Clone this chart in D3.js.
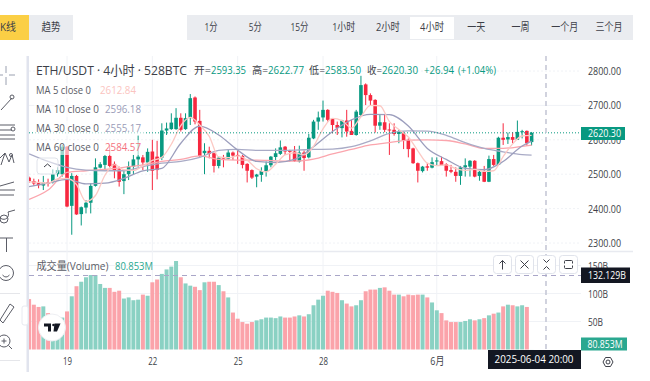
<!DOCTYPE html>
<html>
<head>
<meta charset="utf-8">
<script src="https://cdn.jsdelivr.net/npm/d3@7"></script>
<style>
  html, body { margin: 0; padding: 0; background: #fff; overflow: hidden; }
  text { font-family: "Open Sans", "Noto Sans CJK SC", sans-serif; }
</style>
</head>
<body>
<div id="chart-area"></div>
<script>
// ETH/USDT 4h candles, one entry per candle
var opens = [2490,2480,2474,2467,2477,2477,2500,2500,2580,2408,2495,2384,2403,2417,2466,2519,2527,2553,2530,2514,2480,2500,2522,2543,2549,2534,2566,2551,2548,2627,2631,2631,2664,2631,2663,2723,2655,2561,2568,2561,2524,2550,2545,2563,2556,2553,2530,2512,2493,2498,2509,2526,2550,2559,2580,2568,2566,2537,2563,2549,2604,2653,2665,2687,2661,2643,2634,2656,2626,2614,2672,2761,2730,2716,2641,2651,2630,2629,2617,2619,2600,2575,2532,2509,2523,2519,2537,2538,2529,2512,2507,2495,2520,2522,2539,2495,2507,2478,2544,2527,2606,2601,2608,2600,2623,2626,2593.35];
var highs = [2493,2487,2485,2495,2487,2514,2520,2585,2582,2503,2498,2406,2425,2474,2546,2535,2556,2585,2537,2522,2512,2537,2556,2614,2556,2575,2600,2597,2648,2650,2677,2692,2677,2677,2733,2726,2687,2590,2580,2563,2551,2556,2573,2566,2569,2556,2532,2514,2501,2520,2537,2553,2575,2598,2582,2571,2582,2583,2569,2617,2658,2682,2714,2689,2663,2653,2658,2687,2658,2687,2786,2764,2735,2718,2672,2672,2648,2648,2629,2624,2604,2577,2534,2524,2532,2549,2549,2551,2532,2527,2520,2524,2546,2541,2541,2512,2524,2554,2556,2609,2648,2621,2622,2656,2629,2627,2622.77];
var lows = [2475,2466,2459,2454,2464,2473,2493,2493,2404,2324,2382,2351,2386,2386,2464,2517,2512,2520,2488,2464,2442,2483,2498,2522,2512,2507,2454,2485,2541,2614,2629,2629,2624,2629,2643,2645,2549,2500,2546,2505,2517,2520,2543,2541,2530,2517,2476,2486,2462,2478,2493,2520,2541,2556,2556,2537,2536,2534,2510,2546,2602,2629,2653,2653,2619,2614,2607,2609,2614,2612,2669,2701,2701,2621,2629,2622,2556,2612,2590,2573,2549,2530,2476,2505,2510,2517,2525,2524,2493,2503,2478,2469,2493,2493,2491,2481,2477,2477,2524,2526,2585,2588,2590,2600,2604,2583,2583.5];
var closes = [2480,2473,2468,2476,2472,2500,2512,2580,2406,2495,2383,2404,2417,2466,2520,2529,2553,2524,2512,2478,2500,2523,2543,2551,2534,2565,2510,2512,2627,2633,2650,2664,2629,2663,2721,2653,2553,2568,2559,2524,2548,2545,2563,2554,2553,2527,2510,2490,2499,2509,2526,2551,2561,2578,2566,2565,2538,2563,2547,2606,2653,2665,2687,2658,2643,2635,2656,2624,2614,2682,2759,2730,2714,2641,2651,2629,2628,2617,2624,2598,2573,2532,2510,2522,2519,2535,2540,2526,2510,2507,2495,2520,2526,2539,2493,2507,2478,2544,2527,2606,2600,2608,2600,2623,2625,2590,2620.3];
// Volume in billions, the last candle has only just opened
var volumes = [90,80,76,77,65,60,57,57,68,95,113,121,129,133,133,117,110,110,103,105,91,93,88,89,98,96,120,125,135,143,148,158,129,118,114,112,106,120,121,121,115,104,93,66,55,49,46,49,52,54,57,57,56,59,57,57,59,61,59,63,79,89,96,105,103,101,88,82,77,79,88,104,107,107,110,111,105,98,98,95,98,97,98,98,93,84,70,65,52,49,49,49,51,54,52,54,56,61,64,66,77,80,79,77,79,76,0.08];

// Moving averages, read every 2nd candle (MA5) and every 4th candle (others)
var ma5 = [2478,2476,2474,2486,2488,2470,2421,2438,2497,2528,2513,2511,2524,2540,2549,2587,2641,2665,2643,2610,2550,2548,2553,2541,2516,2507,2529,2556,2562,2556,2581,2632,2662,2656,2634,2667,2700,2699,2653,2630,2608,2568,2532,2525,2527,2516,2511,2514,2508,2510,2551,2588,2611,2612.84];
var ma10 = [2464,2474,2485,2472,2474,2488,2510,2517,2590,2640,2614,2570,2537,2534,2543,2580,2624,2658,2674,2673,2640,2575,2543,2517,2513,2537,2582,2596.18];
var ma30 = [2559,2537,2520,2512,2510,2510,2522,2532,2537,2549,2569,2572,2569,2569,2570,2572,2573,2580,2597,2619,2626,2625,2613,2592,2575,2565,2557,2555.17];
var ma60 = [2427,2454,2505,2510,2514,2520,2527,2537,2543,2553,2543,2541,2541,2539,2538,2544,2559,2572,2585,2592,2599,2600,2598,2588,2575,2575,2581,2584.57];
var ma5Idx = d3.range(0, 107, 2);
var maIdx = d3.range(0, 105, 4).concat([106]);

var priceTicks = [2300, 2400, 2500, 2600, 2700, 2800];
var volumeTicks = [50, 100, 150];
var dateTicks = [8, 26, 44, 62, 86];
var dateLabels = ["19", "22", "25", "28", "6月"];
var periods = ["1分", "5分", "15分", "1小时", "2小时", "4小时", "一天", "一周", "一个月", "三个月"];
var periodWidths = [13, 13, 18, 23, 24, 24, 18, 18, 27, 27];
var legendRows = [
    { name: "MA 5 close 0", value: "2612.84", color: "#fbc4c0" },
    { name: "MA 10 close 0", value: "2596.18", color: "#9a9cb8" },
    { name: "MA 30 close 0", value: "2555.17", color: "#9a9cb8" },
    { name: "MA 60 close 0", value: "2584.57", color: "#f4727e" }
];

var UP = "#089981", DOWN = "#f7283f", TEXT = "#3d3f48", GRID = "#f0f2f6";
var PANE_L = 29, PANE_R = 581, PRICE_T = 56, PRICE_B = 251, VOL_B = 350;

// the screenshot is squeezed sideways, so text gets forced to the width it has there
function fit(sel, w) {
    return sel.attr("textLength", w).attr("lengthAdjust", "spacingAndGlyphs");
}

var svg = d3.select("#chart-area").append("svg")
    .attr("width", 650)
    .attr("height", 381)
    .style("display", "block");

// Scales
var x = d3.scaleLinear().domain([0, 106]).range([29.1, 531.6]);
var y = d3.scaleLinear().domain([2300, 2800]).range([243, 71]);
var yVol = d3.scaleLinear().domain([0, 150]).range([349.5, 265.5]);

svg.append("defs").append("clipPath").attr("id", "pane")
    .append("rect").attr("x", PANE_L).attr("y", PRICE_T)
    .attr("width", PANE_R - PANE_L).attr("height", VOL_B - PRICE_T);

// Top tabs
var tabs = svg.append("g");
tabs.append("rect").attr("x", 0).attr("y", 15).attr("width", 29).attr("height", 25).attr("fill", "#fbcf45");
tabs.append("rect").attr("x", 29).attr("y", 15).attr("width", 44).attr("height", 25).attr("fill", "#eaecf0");
fit(tabs.append("text").attr("x", 8).attr("y", 31).attr("text-anchor", "middle").attr("fill", TEXT)
    .style("font-size", "11.5px").text("K线"), 16);
fit(tabs.append("text").attr("x", 51).attr("y", 31).attr("text-anchor", "middle").attr("fill", TEXT)
    .style("font-size", "11.5px").text("趋势"), 19);
tabs.append("rect").attr("x", 187).attr("y", 15).attr("width", 446).attr("height", 25).attr("fill", "#eaecf0");
tabs.append("rect").attr("x", 410).attr("y", 17).attr("width", 44).attr("height", 22).attr("fill", "#fff");

var xPeriod = d3.scalePoint().domain(periods).range([211, 609]);
tabs.selectAll(".period").data(periods).enter().append("text")
    .attr("class", "period")
    .attr("x", d => xPeriod(d))
    .attr("y", 31)
    .attr("text-anchor", "middle")
    .attr("fill", TEXT)
    .attr("textLength", (d, i) => periodWidths[i])
    .attr("lengthAdjust", "spacingAndGlyphs")
    .style("font-size", "11.5px")
    .text(d => d);

// Frame and separators
svg.append("rect").attr("x", 26.5).attr("y", 56).attr("width", 2.5).attr("height", 316).attr("fill", "#e1e4ee");
svg.append("line").attr("x1", PANE_L).attr("x2", 633).attr("y1", 251.5).attr("y2", 251.5)
    .attr("stroke", "#e8eaf0").attr("stroke-width", 1.5);

// Grid
var grid = svg.append("g").attr("clip-path", "url(#pane)");
grid.selectAll(".v").data(dateTicks).enter().append("line")
    .attr("x1", d => x(d) ).attr("x2", d => x(d))
    .attr("y1", PRICE_T).attr("y2", VOL_B)
    .attr("stroke", GRID);
grid.selectAll(".h").data(priceTicks).enter().append("line")
    .attr("x1", PANE_L).attr("x2", PANE_R)
    .attr("y1", d => y(d)).attr("y2", d => y(d))
    .attr("stroke", GRID)
    .attr("stroke-dasharray", d => d == 2700 ? null : "2,2");
grid.selectAll(".hv").data(volumeTicks).enter().append("line")
    .attr("x1", PANE_L).attr("x2", PANE_R)
    .attr("y1", d => yVol(d)).attr("y2", d => yVol(d))
    .attr("stroke", GRID);

var plot = svg.append("g").attr("clip-path", "url(#pane)");

// Volume bars
plot.selectAll(".vol").data(volumes).enter().append("rect")
    .attr("class", "vol")
    .attr("x", (d, i) => x(i) - 2)
    .attr("y", d => yVol(d))
    .attr("width", 4)
    .attr("height", d => yVol(0) - yVol(d))
    .attr("fill", (d, i) => closes[i] >= opens[i] ? "#8ad1c3" : "#fba3aa");

// Candles
var candleData = d3.range(opens.length);
plot.selectAll(".wick").data(candleData).enter().append("line")
    .attr("class", "wick")
    .attr("x1", i => x(i)).attr("x2", i => x(i))
    .attr("y1", i => y(highs[i])).attr("y2", i => y(lows[i]))
    .attr("stroke", i => closes[i] >= opens[i] ? UP : DOWN);
plot.selectAll(".body").data(candleData).enter().append("rect")
    .attr("class", "body")
    .attr("x", i => x(i) - 1.8)
    .attr("y", i => y(Math.max(opens[i], closes[i])))
    .attr("width", 3.6)
    .attr("height", i => Math.max(1, Math.abs(y(opens[i]) - y(closes[i]))))
    .attr("fill", i => closes[i] >= opens[i] ? UP : DOWN);

// Moving average lines
var maLine = d3.line().x(d => x(d[0])).y(d => y(d[1])).curve(d3.curveMonotoneX);
[[ma60, maIdx, "#fba5ad"], [ma30, maIdx, "#a9abc6"], [ma10, maIdx, "#9c9ebd"], [ma5, ma5Idx, "#fcc9c4"]].forEach(s => {
    plot.append("path")
        .datum(s[0].map((v, i) => [s[1][i], v]))
        .attr("fill", "none")
        .attr("stroke", s[2])
        .attr("stroke-width", 1.3)
        .attr("d", maLine);
});

// Last price line and crosshair
svg.append("line").attr("x1", PANE_L).attr("x2", PANE_R)
    .attr("y1", y(closes[106])).attr("y2", y(closes[106]))
    .attr("stroke", UP).attr("stroke-dasharray", "1,2");
svg.append("line").attr("x1", 546).attr("x2", 546).attr("y1", PRICE_T).attr("y2", VOL_B)
    .attr("stroke", "#c6c8d6").attr("stroke-width", 1.6).attr("stroke-dasharray", "5,4");
svg.append("line").attr("x1", PANE_L).attr("x2", PANE_R).attr("y1", 275.5).attr("y2", 275.5)
    .attr("stroke", "#a9a6c8").attr("stroke-dasharray", "5,4");

// Header and legend
fit(svg.append("text").attr("x", 36).attr("y", 75).attr("fill", TEXT)
    .style("font-size", "13px")
    .text("ETH/USDT · 4小时 · 528BTC"), 151);

// OHLC readout, each piece at its own x
var ohlcParts = [["开=", 194, 17, TEXT], ["2593.35", 211, 35, UP], ["高=", 252, 16, TEXT], ["2622.77", 268, 36, UP],
    ["低=", 309, 16, TEXT], ["2583.50", 325, 36, UP], ["收=", 367, 15, TEXT], ["2620.30", 382, 36, UP],
    ["+26.94", 424, 30, UP], ["(+1.04%)", 458, 38, UP]];
svg.selectAll(".ohlc").data(ohlcParts).enter().append("text")
    .attr("class", "ohlc")
    .attr("x", d => d[1])
    .attr("y", 74)
    .attr("fill", d => d[3])
    .attr("textLength", d => d[2])
    .attr("lengthAdjust", "spacingAndGlyphs")
    .style("font-size", "10.5px")
    .text(d => d[0]);

var legend = svg.selectAll(".legend").data(legendRows).enter().append("g")
    .attr("class", "legend")
    .attr("transform", (d, i) => `translate(34,${90 + i * 19})`);
legend.append("rect").attr("x", 0).attr("y", -7).attr("width", 110).attr("height", 15)
    .attr("fill", "#fff").attr("fill-opacity", 0.6);
legend.append("text").attr("x", 2).attr("y", 4).attr("fill", "#5a5c66")
    .attr("textLength", d => d.name.length > 12 ? 63 : 55)
    .attr("lengthAdjust", "spacingAndGlyphs")
    .style("font-size", "11px").text(d => d.name);
legend.append("text").attr("x", d => d.name.length > 12 ? 71 : 66).attr("y", 4).attr("fill", d => d.color)
    .attr("textLength", 36)
    .attr("lengthAdjust", "spacingAndGlyphs")
    .style("font-size", "11px").text(d => d.value);

fit(svg.append("text").attr("x", 36.5).attr("y", 270).attr("fill", "#5a5c66")
    .style("font-size", "11px").text("成交量(Volume)"), 72);
fit(svg.append("text").attr("x", 115).attr("y", 270).attr("fill", "#2aa890")
    .style("font-size", "11px").text("80.853M"), 38);

// Price and volume axes
var yAxis = svg.append("g").attr("transform", "translate(582,0)")
    .call(d3.axisRight(y).tickValues(priceTicks).tickSize(0).tickPadding(6).tickFormat(d => d.toFixed(2)));
var volAxis = svg.append("g").attr("transform", "translate(582,0)")
    .call(d3.axisRight(yVol).tickValues(volumeTicks).tickSize(0).tickPadding(6).tickFormat(d => d + "B"));
var xAxis = svg.append("g").attr("transform", "translate(0,350)")
    .call(d3.axisBottom(x).tickValues(dateTicks).tickSize(0).tickPadding(7).tickFormat((d, i) => dateLabels[i]));
[yAxis, volAxis, xAxis].forEach(a => {
    a.select(".domain").remove();
    a.selectAll("text").attr("fill", TEXT).style("font-size", "11px")
        .style("font-family", '"Open Sans", "Noto Sans CJK SC", sans-serif');
});
fit(yAxis.selectAll("text"), 33);
volAxis.selectAll("text").attr("textLength", d => d == 50 ? 15 : 20).attr("lengthAdjust", "spacingAndGlyphs");
xAxis.selectAll("text").attr("textLength", d => d == 86 ? 14 : 9).attr("lengthAdjust", "spacingAndGlyphs");

// Axis tags
function tag(tx, ty, w, h, fill, label, anchorX, labelW) {
    svg.append("rect").attr("x", tx).attr("y", ty).attr("width", w).attr("height", h).attr("fill", fill);
    fit(svg.append("text").attr("x", anchorX).attr("y", ty + h / 2 + 3.9).attr("fill", "#fff")
        .style("font-size", "11px").text(label), labelW);
}
tag(581, 127, 44, 13, UP, "2620.30", 588, 33);
tag(581, 267.5, 49, 15.5, "#131722", "132.129B", 588, 38);
tag(581, 337.5, 46, 13, "#2aa890", "80.853M", 587.5, 35);
tag(488, 350, 93, 19, "#131722", "2025-06-04  20:00", 494.5, 79);

// Pane buttons
var buttons = svg.selectAll(".btn").data(["up", "x", "fold", "reset"]).enter().append("g")
    .attr("class", "btn")
    .attr("transform", (d, i) => `translate(${502.5 + i * 22},264.5)`);
buttons.append("rect").attr("x", -9).attr("y", -9).attr("width", 18).attr("height", 18).attr("rx", 3)
    .attr("fill", "#fff").attr("stroke", "#e0e3eb");
buttons.append("path").attr("fill", "none").attr("stroke", "#3d3f48")
    .attr("d", d => ({
        up: "M0,5V-4M-3,-1L0,-4L3,-1",
        x: "M-4,-4L4,4M4,-4L-4,4",
        fold: "M-3,-5L0,-2L3,-5M-3,5L0,2L3,5",
        reset: "M-4,-1V-3Q-4,-4 -3,-4H3Q4,-4 4,-3V-1M-4,1V3Q-4,4 -3,4H3Q4,4 4,3V1"
    })[d]);

// TradingView badge
svg.append("circle").attr("cx", 52).attr("cy", 327.5).attr("r", 13.5).attr("fill", "#fff").attr("stroke", "#eeeff3");
svg.append("path").attr("fill", "#131722")
    .attr("d", "M44,323.5H51V331.5H48V326.5H44ZM54.5,323.5H60.5L57,331.5H53.5Z");
svg.append("circle").attr("cx", 53.5).attr("cy", 325).attr("r", 1.3).attr("fill", "#131722");

// Settings gear
svg.append("circle").attr("cx", 608).attr("cy", 362).attr("r", 2).attr("fill", "none").attr("stroke", TEXT);
svg.append("path").attr("fill", "none").attr("stroke", TEXT)
    .attr("d", "M603,362L605.5,357.5H610.5L613,362L610.5,366.5H605.5Z");

// Left toolbar
var tools = svg.append("g").attr("fill", "none").attr("stroke", "#5a5c66");
tools.append("path").attr("stroke", "#9aa0b0").attr("d", "M6,66V73M6,77V85M-1,75H3M9,75H15");
tools.append("path").attr("d", "M1,110L12,98");
tools.append("circle").attr("cx", 12).attr("cy", 97).attr("r", 2);
tools.append("path").attr("d", "M0,125H15M0,130H12M0,135H15M0,139H15");
tools.append("circle").attr("cx", 13).attr("cy", 129).attr("r", 2);
tools.append("path").attr("d", "M0,158L5,153L9,162L12,155L14,163M1,165L5,153");
tools.append("circle").attr("cx", 11).attr("cy", 155).attr("r", 1.5);
tools.append("path").attr("d", "M0,186L14,182M0,190H15M0,195H14");
tools.append("path").attr("d", "M0,218C6,222 10,216 8,212L15,210");
tools.append("circle").attr("cx", 4).attr("cy", 219).attr("r", 4);
tools.append("path").attr("d", "M0,238H13M6.5,238V252");
tools.append("circle").attr("cx", 6).attr("cy", 273).attr("r", 7.5);
tools.append("path").attr("d", "M2.5,275Q6,279 9.5,275");
tools.append("path").attr("stroke", "#e5e6ea").attr("d", "M0,293.5H20M0,360.5H20");
tools.append("path").attr("d", "M0,320L10,304L14,307L3,323Z");
tools.append("circle").attr("cx", 4).attr("cy", 341).attr("r", 6);
tools.append("path").attr("d", "M8.5,345.5L12,349M4,338.5V343.5M1.5,341H6.5");
svg.append("rect").attr("x", 22).attr("y", 306).attr("width", 6).attr("height", 19).attr("rx", 2)
    .attr("fill", "#fff").attr("stroke", "#e8eaf0");

// Collapse button on the legend
svg.append("rect").attr("x", 37).attr("y", 158).attr("width", 21).attr("height", 16).attr("rx", 3)
    .attr("fill", "#fff").attr("fill-opacity", 0.5).attr("stroke", "#e0e3eb");
svg.append("path").attr("fill", "none").attr("stroke", "#3d3f48").attr("d", "M44,167L47.5,164L51,167");
</script>
</body>
</html>
